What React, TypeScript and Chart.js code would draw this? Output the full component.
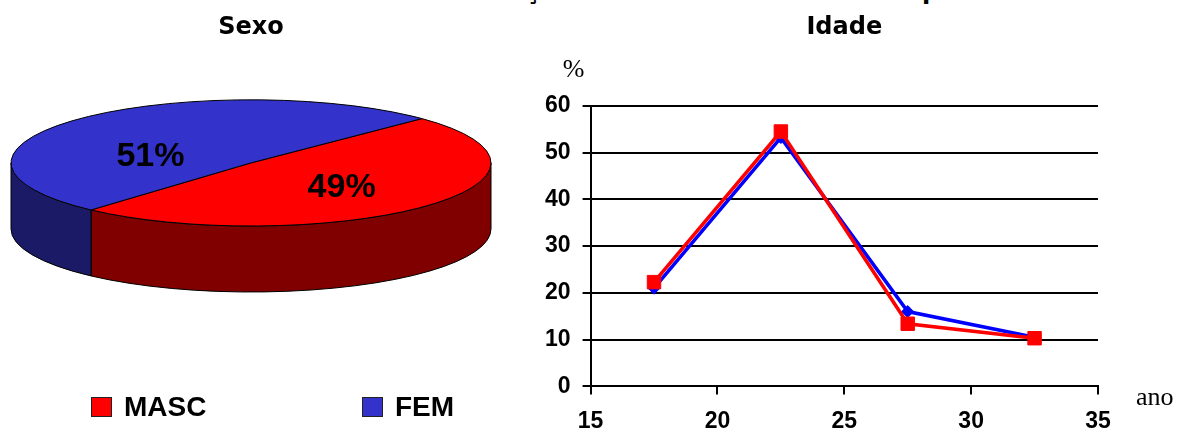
import React, { useEffect, useRef } from "react";
import { Chart, registerables } from "chart.js";

Chart.register(...registerables);

// ---- Data ----
const sexLabels = ["MASC", "FEM"];
const sexValues = [49, 51];
const sexColors = ["#FF0000", "#3333CC"];
const sexSideColors = ["#800000", "#1A1A66"];

const ageX = [17.5, 22.5, 27.5, 32.5];
const mascValues = [22.3, 54.5, 13.4, 10.3];
const femValues = [21.0, 53.2, 16.0, 10.5];
const seriesNames = ["MASC", "FEM"];
const seriesColors = ["#FF0000", "#0000FF"];
const xTicks = [15, 20, 25, 30, 35];
const yTicks = [0, 10, 20, 30, 40, 50, 60];

const TITLE_FONT = "DejaVu Sans";
const SANS = "Liberation Sans";
const SERIF = "Liberation Serif";

function frontRanges(a1: number, a2: number): [number, number][] {
  const out: [number, number][] = [];
  const TWO_PI = Math.PI * 2;
  for (let k = -2; k <= 2; k++) {
    const s = Math.max(a1, k * TWO_PI);
    const e = Math.min(a2, k * TWO_PI + Math.PI);
    if (e > s) out.push([s, e]);
  }
  return out;
}

const pie3D = {
  id: "pie3D",
  beforeDatasetsDraw(chart: any) {
    const ctx = chart.ctx as CanvasRenderingContext2D;
    const meta = chart.getDatasetMeta(0);
    const area = chart.chartArea;
    const arcs = meta.data as any[];
    if (!arcs.length) return false;
    const rx = (area.right - area.left) / 2;
    const ry = (area.bottom - area.top) / 2;
    const depth = rx * 0.275;
    const cx = arcs[0].x;
    const cy = arcs[0].y;
    ctx.save();
    ctx.lineWidth = 1;
    ctx.strokeStyle = "#000";
    ctx.lineJoin = "round";
    // side walls
    arcs.forEach((arc, i) => {
      frontRanges(arc.startAngle, arc.endAngle).forEach(([s, e]) => {
        ctx.beginPath();
        ctx.ellipse(cx, cy, rx, ry, 0, s, e, false);
        ctx.lineTo(cx + rx * Math.cos(e), cy + ry * Math.sin(e) + depth);
        ctx.ellipse(cx, cy + depth, rx, ry, 0, e, s, true);
        ctx.closePath();
        ctx.fillStyle = sexSideColors[i];
        ctx.fill();
        ctx.stroke();
      });
    });
    // top faces
    arcs.forEach((arc, i) => {
      ctx.beginPath();
      ctx.moveTo(cx, cy);
      ctx.ellipse(cx, cy, rx, ry, 0, arc.startAngle, arc.endAngle, false);
      ctx.closePath();
      ctx.fillStyle = sexColors[i];
      ctx.fill();
      ctx.stroke();
    });
    // labels
    const values = chart.data.datasets[0].data as number[];
    const total = values.reduce((a, b) => a + b, 0);
    ctx.fillStyle = "#000";
    ctx.font = `bold 34px "${SANS}"`;
    ctx.textAlign = "center";
    ctx.textBaseline = "middle";
    arcs.forEach((arc, i) => {
      const mid = (arc.startAngle + arc.endAngle) / 2;
      const x = cx + Math.cos(mid) * rx * 0.55 - 5;
      const y = cy + Math.sin(mid) * ry * 0.35 + 9;
      ctx.fillText(Math.round((values[i] / total) * 100) + "%", x, y);
    });
    ctx.restore();
    return false;
  },
  afterDraw(chart: any) {
    const ctx = chart.ctx as CanvasRenderingContext2D;
    const labels = chart.data.labels as string[];
    ctx.save();
    ctx.font = `bold 28px "${SANS}"`;
    ctx.textBaseline = "middle";
    ctx.textAlign = "left";
    const y = chart.height - 28;
    let x = 91;
    labels.forEach((lab, i) => {
      ctx.fillStyle = sexColors[i];
      ctx.fillRect(x, y - 10, 21, 20);
      ctx.strokeStyle = "#222";
      ctx.lineWidth = 1;
      ctx.strokeRect(x + 0.5, y - 9.5, 20, 19);
      ctx.fillStyle = "#000";
      ctx.fillText(lab, x + 33, y + 1);
      x += 271;
    });
    ctx.restore();
  },
};

const axisTexts = {
  id: "axisTexts",
  afterDraw(chart: any) {
    const ctx = chart.ctx as CanvasRenderingContext2D;
    const a = chart.chartArea;
    ctx.save();
    ctx.fillStyle = "#000";
    ctx.font = `26px "${SERIF}"`;
    ctx.textAlign = "center";
    ctx.textBaseline = "alphabetic";
    ctx.fillText("%", a.left - 17, a.top - 29);
    ctx.textAlign = "left";
    ctx.fillText("ano", a.right + 38, a.bottom + 19);
    ctx.restore();
  },
};

function PieChart() {
  const ref = useRef<HTMLCanvasElement>(null);
  useEffect(() => {
    const chart = new Chart(ref.current!, {
      type: "pie",
      data: {
        labels: sexLabels,
        datasets: [{ data: sexValues, backgroundColor: sexColors, borderWidth: 0 }],
      },
      options: {
        responsive: false,
        animation: false,
        rotation: 45.4,
        layout: { padding: { left: 11, right: 29, top: 0, bottom: 209 } },
        plugins: {
          legend: { display: false },
          tooltip: { enabled: false },
          title: {
            display: true,
            text: "Sexo",
            color: "#000",
            font: { family: TITLE_FONT, size: 24, weight: "bold" },
            padding: { top: 13, bottom: 58 },
          },
        },
      } as any,
      plugins: [pie3D],
    });
    return () => chart.destroy();
  }, []);
  return <canvas ref={ref} width={520} height={435} style={{ position: "absolute", left: 0, top: 0 }} />;
}

function LineChart() {
  const ref = useRef<HTMLCanvasElement>(null);
  useEffect(() => {
    const tickFont = { family: SANS, size: 23, weight: "bold" as const };
    const allSeries = [mascValues, femValues];
    const chart = new Chart(ref.current!, {
      type: "line",
      data: {
        datasets: allSeries.map((vals, i) => ({
          label: seriesNames[i],
          data: ageX.map((x, j) => ({ x, y: vals[j] })),
          borderColor: seriesColors[i],
          backgroundColor: seriesColors[i],
          pointBackgroundColor: seriesColors[i],
          pointBorderColor: seriesColors[i],
          borderWidth: 3.5,
          pointStyle: i === 0 ? "rect" : "rectRot",
          pointRadius: i === 0 ? 9.5 : 6,
          pointBorderWidth: 1,
          tension: 0,
          fill: false,
        })),
      },
      options: {
        responsive: false,
        animation: false,
        layout: { padding: { left: 13, right: 83, top: 0, bottom: -13 } },
        plugins: {
          legend: { display: false },
          tooltip: { enabled: false },
          title: {
            display: true,
            text: "Idade",
            color: "#000",
            fullSize: false,
            font: { family: TITLE_FONT, size: 24, weight: "bold" },
            padding: { top: 13, bottom: 64 },
          },
        },
        scales: {
          x: {
            type: "linear",
            min: xTicks[0],
            max: xTicks[xTicks.length - 1],
            afterBuildTicks: (s: any) => {
              s.ticks = xTicks.map((v) => ({ value: v }));
            },
            ticks: { font: tickFont, color: "#000", padding: 13, maxRotation: 0 },
            grid: { drawOnChartArea: false, drawTicks: true, tickLength: 8, color: "#000", lineWidth: 2 },
            border: { display: true, color: "#000", width: 2 },
          },
          y: {
            type: "linear",
            min: yTicks[0],
            max: yTicks[yTicks.length - 1],
            afterBuildTicks: (s: any) => {
              s.ticks = yTicks.map((v) => ({ value: v }));
            },
            ticks: { font: tickFont, color: "#000", padding: 12 },
            grid: { color: "#000", lineWidth: 2, tickLength: 8 },
            border: { display: true, color: "#000", width: 2 },
          },
        },
      } as any,
      plugins: [axisTexts],
    });
    return () => chart.destroy();
  }, []);
  return <canvas ref={ref} width={661} height={435} style={{ position: "absolute", left: 520, top: 0 }} />;
}

export default function App() {
  return (
    <div
      style={{
        position: "absolute",
        left: 0,
        top: 0,
        width: 1181,
        height: 435,
        overflow: "hidden",
        background: "#fff",
      }}
    >
      <div
        style={{
          position: "absolute",
          left: 409,
          top: -21,
          whiteSpace: "nowrap",
          font: `bold 24px "${TITLE_FONT}"`,
          lineHeight: "24px",
          color: "#000",
        }}
      >
        Distribuição dos indivíduos avaliados por
      </div>
      <PieChart />
      <LineChart />
    </div>
  );
}
